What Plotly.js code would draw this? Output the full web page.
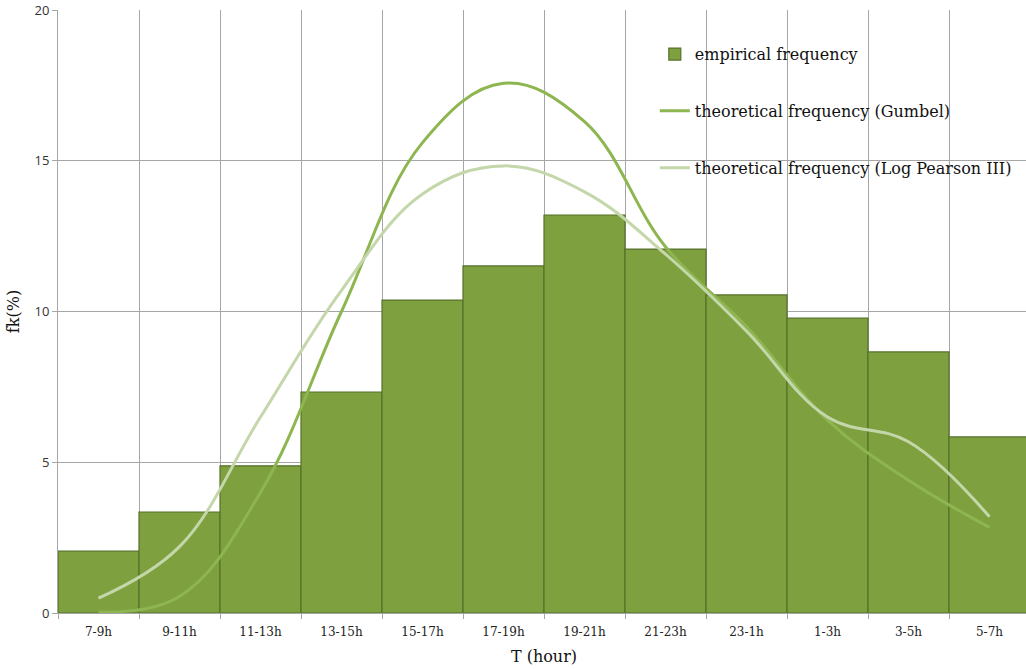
<!DOCTYPE html>
<html>
<head>
<meta charset="utf-8">
<script src="https://cdn.plot.ly/plotly-3.0.1.min.js"></script>
<style>
html,body{margin:0;padding:0;overflow:hidden;background:#fff;}
#chart{width:1030px;height:669px;}
</style>
</head>
<body>
<div id="chart"></div>
<script>
const categories = ["7-9h","9-11h","11-13h","13-15h","15-17h","17-19h","19-21h","21-23h","23-1h","1-3h","3-5h","5-7h"];
const empirical = [2.05, 3.35, 4.88, 7.33, 10.38, 11.51, 13.2, 12.07, 10.55, 9.78, 8.66, 5.84];
const gumbel = [0.03, 0.55, 4.0, 10.0, 15.6, 17.57, 16.3, 12.15, 9.5, 6.4, 4.4, 2.84];
const logPearson = [0.49, 2.2, 6.5, 10.7, 13.9, 14.83, 13.97, 11.9, 9.35, 6.5, 5.68, 3.19];
const seriesNames = ["empirical frequency", "theoretical frequency (Gumbel)", "theoretical frequency (Log Pearson III)"];

const traces = [
  {
    type: "bar", x: categories, y: empirical, name: seriesNames[0],
    legendgroup: "a",
    marker: {color: "#7EA03E", line: {color: "#55712A", width: 1.2}},
    hoverinfo: "x+y"
  },
  {
    type: "scatter", mode: "lines", x: categories, y: gumbel, name: seriesNames[1],
    legendgroup: "b",
    line: {color: "#8DB550", width: 3, shape: "spline", smoothing: 1.1}
  },
  {
    type: "scatter", mode: "lines", x: categories, y: logPearson, name: seriesNames[2],
    legendgroup: "c",
    line: {color: "#C4D7AA", width: 3, shape: "spline", smoothing: 1.1}
  }
];

const layout = {
  width: 1030, height: 669,
  margin: {l: 58, r: 0, t: 10, b: 56},
  paper_bgcolor: "#ffffff", plot_bgcolor: "#ffffff",
  bargap: 0,
  showlegend: true,
  legend: {
    x: 0.614, y: 0.955, xanchor: "left", yanchor: "top",
    bgcolor: "rgba(255,255,255,0)",
    font: {family: "DejaVu Serif, Liberation Serif, serif", size: 16, color: "#111"},
    traceorder: "grouped", tracegroupgap: 33,
    itemwidth: 30
  },
  xaxis: {
    type: "category",
    tickson: "boundaries",
    showgrid: true, gridcolor: "#A6A6A6", gridwidth: 1,
    showline: true, linecolor: "#A6A6A6", linewidth: 1,
    ticks: "outside", ticklen: 5, tickcolor: "#A6A6A6",
    ticklabelstandoff: 8,
    tickfont: {family: "DejaVu Serif, Liberation Serif, serif", size: 12, color: "#222"},
    title: {text: "T (hour)", font: {family: "DejaVu Serif, Liberation Serif, serif", size: 16, color: "#111"}, standoff: 12},
    automargin: false
  },
  yaxis: {
    range: [0, 20], tickvals: [0, 5, 10, 15, 20],
    showgrid: true, gridcolor: "#A6A6A6", gridwidth: 1,
    showline: true, linecolor: "#A6A6A6", linewidth: 1,
    ticks: "outside", ticklen: 5, tickcolor: "#A6A6A6",
    zeroline: false,
    tickfont: {family: "Open Sans, DejaVu Sans, sans-serif", size: 13, color: "#333"},
    title: {text: "fk(%)", font: {family: "DejaVu Serif, Liberation Serif, serif", size: 16, color: "#111"}, standoff: 10},
    automargin: false
  }
};

Plotly.newPlot("chart", traces, layout, {displayModeBar: false, staticPlot: true});
</script>
</body>
</html>
